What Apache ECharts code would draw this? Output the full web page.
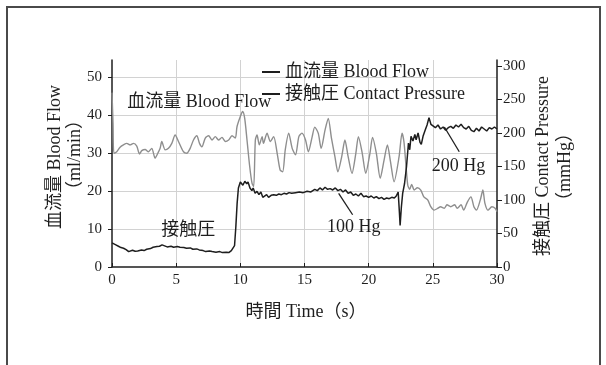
<!DOCTYPE html>
<html>
<head>
<meta charset="utf-8">
<script src="https://cdn.jsdelivr.net/npm/echarts@6/dist/echarts.min.js"></script>
<style>
  html, body { margin: 0; padding: 0; background: #ffffff; }
  #chart { width: 606px; height: 365px; }
</style>
</head>
<body>
<div id="chart"></div>
<script>
// Blood flow (ml/min), left axis
const flowTime = [0, 0.08, 0.15, 0.37, 0.63, 0.89, 1.15, 1.41, 1.67, 1.93, 2.14, 2.32, 2.58, 2.84, 3.1, 3.36, 3.57, 3.75, 3.88, 4.14, 4.4, 4.66, 4.92, 5.18, 5.57, 5.83, 6.09, 6.35, 6.61, 6.82, 7.0, 7.27, 7.53, 7.79, 8.05, 8.3, 8.57, 8.83, 9.09, 9.35, 9.61, 9.74, 10.0, 10.18, 10.34, 10.52, 10.73, 10.91, 11.04, 11.17, 11.3, 11.48, 11.7, 11.8, 12.08, 12.34, 12.6, 12.87, 13.1, 13.3, 13.5, 13.77, 14.04, 14.3, 14.56, 14.8, 15.08, 15.3, 15.6, 15.8, 16.07, 16.3, 16.6, 16.85, 17.1, 17.37, 17.6, 17.9, 18.15, 18.4, 18.7, 19.0, 19.2, 19.5, 19.77, 20.1, 20.3, 20.6, 20.9, 21.2, 21.46, 21.7, 21.98, 22.37, 22.6, 22.75, 22.9, 23.05, 23.2, 23.35, 23.55, 23.8, 24.06, 24.3, 24.6, 24.84, 25.1, 25.4, 25.6, 25.9, 26.1, 26.4, 26.7, 26.9, 27.2, 27.4, 27.7, 27.97, 28.2, 28.4, 28.7, 28.9, 29.06, 29.3, 29.6, 29.85, 30.0];
const flowValues = [46, 38, 30, 30.4, 31.6, 32.2, 32.6, 32.2, 32.6, 31.9, 29.8, 30.7, 31.0, 30.4, 31.3, 28.7, 30.0, 31.3, 33.1, 30.9, 31.3, 32.6, 34.8, 33.1, 30.4, 30.0, 31.3, 33.5, 34.6, 32.6, 31.7, 34.0, 34.6, 33.5, 34.4, 33.5, 34.2, 33.1, 33.5, 34.6, 34.0, 37.0, 39.7, 41.0, 39.2, 33.5, 26.5, 22.1, 21.2, 33.5, 34.8, 32.2, 34.4, 32.6, 35.3, 33.1, 34.4, 30.0, 25.6, 25.1, 30.9, 35.3, 31.3, 29.6, 34.4, 35.3, 33.5, 30.4, 34.4, 36.9, 35.3, 31.3, 36.1, 39.2, 34.0, 29.1, 25.1, 29.1, 33.5, 29.1, 24.7, 30.0, 34.4, 30.0, 24.7, 30.0, 34.2, 30.0, 23.4, 28.2, 32.2, 27.8, 22.5, 29.1, 35.3, 33.0, 27.0, 21.5, 20.5, 21.8, 20.3, 20.9, 20.3, 18.5, 17.7, 15.9, 15.0, 15.5, 15.9, 15.5, 16.4, 15.9, 16.4, 15.5, 16.4, 15.0, 17.2, 18.5, 15.9, 15.0, 17.7, 20.3, 16.8, 15.0, 15.9, 15.5, 14.6];

// Contact pressure (mmHg), right axis
const pressureTime = [0, 0.1, 0.3, 0.5, 0.7, 0.9, 1.1, 1.3, 1.6, 1.8, 2.0, 2.3, 2.5, 2.7, 3.0, 3.2, 3.5, 3.7, 3.9, 4.1, 4.3, 4.6, 4.8, 5.1, 5.3, 5.6, 5.8, 6.1, 6.3, 6.6, 6.8, 7.1, 7.3, 7.6, 7.8, 8.1, 8.4, 8.6, 8.9, 9.1, 9.3, 9.45, 9.55, 9.65, 9.75, 9.85, 10.0, 10.2, 10.35, 10.5, 10.6, 10.75, 10.9, 11.0, 11.15, 11.3, 11.45, 11.6, 11.75, 11.9, 12.05, 12.2, 12.4, 12.6, 12.8, 13.0, 13.2, 13.4, 13.6, 13.8, 14.0, 14.3, 14.6, 14.9, 15.2, 15.5, 15.8, 16.0, 16.2, 16.4, 16.6, 16.8, 17.0, 17.2, 17.4, 17.6, 17.8, 18.0, 18.2, 18.4, 18.6, 18.8, 19.0, 19.2, 19.4, 19.6, 19.8, 20.0, 20.2, 20.4, 20.6, 20.8, 21.0, 21.2, 21.4, 21.6, 21.8, 22.0, 22.15, 22.3, 22.4, 22.45, 22.55, 22.65, 22.8, 22.95, 23.1, 23.2, 23.3, 23.45, 23.6, 23.7, 23.85, 24.0, 24.1, 24.25, 24.4, 24.55, 24.7, 24.85, 25.0, 25.2, 25.4, 25.6, 25.8, 26.0, 26.2, 26.4, 26.6, 26.8, 27.0, 27.2, 27.4, 27.6, 27.8, 28.0, 28.2, 28.4, 28.6, 28.8, 29.0, 29.2, 29.4, 29.6, 29.8, 30.0];
const pressureValues = [36, 35, 33, 31, 29, 28, 26, 23, 25, 23.5, 24, 25.5, 24.5, 26.5, 27.5, 29.5, 30.5, 31, 33, 31.5, 30, 31, 29.5, 30.5, 29.5, 29, 28, 28.5, 26.5, 27, 25.5, 24.5, 23, 24, 23, 22, 23, 21.5, 22, 21.5, 24.5, 27, 32, 60, 95, 118, 127, 122, 128, 124, 127, 118, 114, 118, 110, 113, 108, 112, 104, 106, 108, 104, 107, 108, 107, 109, 108, 110, 109, 111, 110, 111, 112, 111, 113, 112, 116, 114, 118, 115, 119, 116, 117, 115, 118, 114, 116, 112, 115, 110, 112, 107, 109, 106, 110, 105, 106, 104, 106, 103, 105, 102, 104, 101, 103, 102, 104, 103, 106, 112, 80, 62, 90, 110, 125, 150, 185, 175, 195, 188, 198, 190, 200, 186, 183, 196, 204, 212, 223, 213, 214, 208, 212, 206, 209, 204, 208, 210, 207, 212, 209, 213, 208, 206, 210, 204, 202, 207, 203, 209, 206, 203, 208, 206, 209, 206];

const flowName = '血流量 Blood Flow';
const pressureName = '接触圧 Contact Pressure';
const flowAxisTitle = '血流量 Blood Flow';
const flowUnit = '（ml/min）';
const pressureAxisTitle = '接触圧 Contact Pressure';
const pressureUnit = '（mmHg）';
const timeTitle = '時間 Time（s）';

const serif = "'Liberation Serif', 'Noto Sans CJK JP', serif";
const ink = '#1e1e1e';

const chart = echarts.init(document.getElementById('chart'), null, { renderer: 'canvas' });

const zip = (xs, ys) => xs.map((x, i) => [x, ys[i]]);

const option = {
  animation: false,
  backgroundColor: '#ffffff',
  textStyle: { fontFamily: serif, color: ink },
  grid: { left: 112, right: 109, top: 60, bottom: 98 },
  legend: {
    orient: 'vertical',
    left: 262,
    top: 62,
    padding: 0,
    itemWidth: 18,
    itemHeight: 2,
    itemGap: 2,
    icon: 'rect',
    textStyle: { fontFamily: serif, fontSize: 18, color: ink, lineHeight: 20 },
    data: [
      { name: flowName, itemStyle: { color: ink } },
      { name: pressureName, itemStyle: { color: ink } }
    ]
  },
  xAxis: {
    type: 'value',
    min: 0,
    max: 30,
    interval: 5,
    axisLine: { lineStyle: { color: ink, width: 1.5 } },
    axisTick: { inside: true, length: 4, lineStyle: { color: ink } },
    axisLabel: { fontFamily: serif, fontSize: 15, color: ink, margin: 6 },
    splitLine: { show: true, showMinLine: false, showMaxLine: false, lineStyle: { color: '#d2d2d2', width: 1 } }
  },
  yAxis: [
    {
      type: 'value',
      min: 0,
      max: 54.6,
      interval: 10,
      position: 'left',
      axisLine: { show: true, lineStyle: { color: ink, width: 1.5 } },
      axisTick: { show: true, length: 4, lineStyle: { color: ink } },
      axisLabel: { fontFamily: serif, fontSize: 15, color: ink, margin: 10, showMaxLabel: false },
      splitLine: { show: true, showMinLine: false, showMaxLine: false, lineStyle: { color: '#d2d2d2', width: 1 } }
    },
    {
      type: 'value',
      min: 0,
      max: 309,
      interval: 50,
      position: 'right',
      axisLine: { show: true, lineStyle: { color: ink, width: 1.5 } },
      axisTick: { show: true, length: 5, lineStyle: { color: ink } },
      axisLabel: { fontFamily: serif, fontSize: 15, color: ink, margin: 6, showMaxLabel: false },
      splitLine: { show: false }
    }
  ],
  series: [
    {
      name: flowName,
      type: 'line',
      yAxisIndex: 0,
      data: zip(flowTime, flowValues),
      showSymbol: false,
      smooth: 0.25,
      lineStyle: { color: '#8e8e8e', width: 1.4 },
      itemStyle: { color: '#8e8e8e' },
      markPoint: {
        symbol: 'circle',
        symbolSize: 1,
        itemStyle: { color: 'rgba(0,0,0,0)' },
        label: { show: true, position: 'inside', fontFamily: serif, fontSize: 18, color: ink, formatter: p => p.name },
        data: [{ name: '血流量 Blood Flow', coord: [6.8, 43.4] }]
      }
    },
    {
      name: pressureName,
      type: 'line',
      yAxisIndex: 1,
      data: zip(pressureTime, pressureValues),
      showSymbol: false,
      lineStyle: { color: ink, width: 1.5 },
      itemStyle: { color: ink },
      markPoint: {
        symbol: 'circle',
        symbolSize: 1,
        itemStyle: { color: 'rgba(0,0,0,0)' },
        label: { show: true, position: 'inside', fontFamily: serif, fontSize: 18, color: ink, formatter: p => p.name },
        data: [
          { name: '接触圧', coord: [5.94, 55] },
          { name: '100 Hg', coord: [18.83, 60] },
          { name: '200 Hg', coord: [27.0, 150] }
        ]
      },
      markLine: {
        silent: true,
        symbol: 'none',
        label: { show: false },
        lineStyle: { color: ink, width: 1.3, type: 'solid' },
        data: [
          [{ coord: [17.66, 110] }, { coord: [18.75, 78] }],
          [{ coord: [25.9, 209] }, { coord: [27.06, 172] }]
        ]
      }
    }
  ],
  graphic: [
    {
      type: 'rect',
      shape: { x: 7, y: 7, width: 593, height: 370 },
      style: { fill: null, stroke: '#4a4a4a', lineWidth: 2 },
      silent: true
    },
    {
      type: 'text', x: 55, y: 157, rotation: Math.PI / 2,
      style: { text: flowAxisTitle, font: "18px " + serif, fill: ink, textAlign: 'center', textVerticalAlign: 'middle' }
    },
    {
      type: 'text', x: 75, y: 155, rotation: Math.PI / 2,
      style: { text: flowUnit, font: "18px " + serif, fill: ink, textAlign: 'center', textVerticalAlign: 'middle' }
    },
    {
      type: 'text', x: 543, y: 166, rotation: Math.PI / 2,
      style: { text: pressureAxisTitle, font: "18px " + serif, fill: ink, textAlign: 'center', textVerticalAlign: 'middle' }
    },
    {
      type: 'text', x: 565, y: 167, rotation: Math.PI / 2,
      style: { text: pressureUnit, font: "18px " + serif, fill: ink, textAlign: 'center', textVerticalAlign: 'middle' }
    },
    {
      type: 'text', x: 306, y: 312,
      style: { text: timeTitle, font: "18px " + serif, fill: ink, textAlign: 'center', textVerticalAlign: 'middle' }
    }
  ]
};

chart.setOption(option);
</script>
</body>
</html>
